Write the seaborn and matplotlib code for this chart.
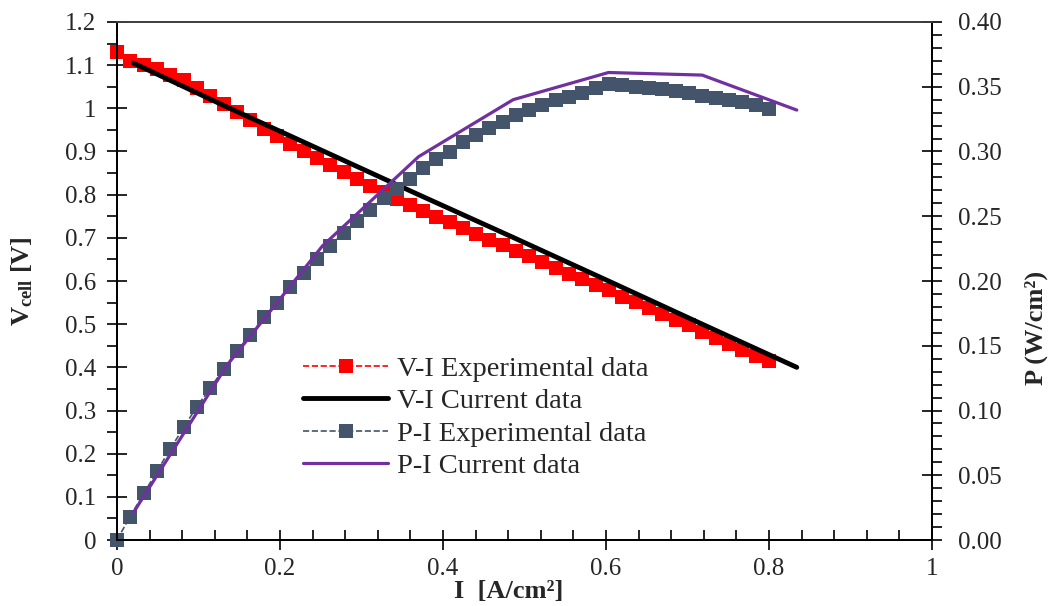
import matplotlib
matplotlib.use("Agg")
import matplotlib.pyplot as plt
from matplotlib.ticker import MultipleLocator, FormatStrFormatter, FuncFormatter
import seaborn as sns

# experimental current density [A/cm2]
I_exp = [0.000, 0.016, 0.033, 0.049, 0.065, 0.082, 0.098, 0.114, 0.131, 0.147,
         0.163, 0.180, 0.196, 0.212, 0.229, 0.245, 0.261, 0.278, 0.294, 0.310,
         0.327, 0.343, 0.359, 0.376, 0.392, 0.408, 0.424, 0.441, 0.457, 0.473,
         0.490, 0.506, 0.522, 0.539, 0.555, 0.571, 0.588, 0.604, 0.620, 0.637,
         0.653, 0.669, 0.686, 0.702, 0.718, 0.735, 0.751, 0.767, 0.784, 0.800]
# experimental cell voltage [V]
V_exp = [1.130, 1.110, 1.100, 1.090, 1.078, 1.065, 1.047, 1.029, 1.010, 0.991,
         0.972, 0.953, 0.935, 0.918, 0.901, 0.884, 0.868, 0.852, 0.836, 0.821,
         0.806, 0.791, 0.777, 0.763, 0.749, 0.736, 0.723, 0.709, 0.696, 0.683,
         0.670, 0.657, 0.644, 0.630, 0.617, 0.604, 0.591, 0.578, 0.564, 0.551,
         0.537, 0.524, 0.510, 0.497, 0.483, 0.469, 0.455, 0.441, 0.427, 0.414]
# experimental power density [W/cm2]
P_exp = [0.000, 0.018, 0.036, 0.053, 0.070, 0.087, 0.103, 0.117, 0.132, 0.146,
         0.158, 0.172, 0.183, 0.195, 0.206, 0.217, 0.227, 0.237, 0.246, 0.255,
         0.264, 0.271, 0.279, 0.287, 0.294, 0.300, 0.307, 0.313, 0.318, 0.323,
         0.328, 0.332, 0.336, 0.340, 0.342, 0.345, 0.349, 0.352, 0.351, 0.350,
         0.349, 0.348, 0.347, 0.345, 0.343, 0.341, 0.340, 0.338, 0.336, 0.333]

# model ("current data")
I_mod = [0.020, 0.135, 0.252, 0.370, 0.486, 0.603, 0.718, 0.834]
V_mod = [1.105, 1.003, 0.902, 0.800, 0.701, 0.600, 0.500, 0.400]
P_mod = [0.021, 0.135, 0.227, 0.296, 0.340, 0.361, 0.359, 0.332]

labels = ["V-I Experimental data", "V-I Current data",
          "P-I Experimental data", "P-I Current data"]

sns.set_style("white")
plt.rcParams['font.family'] = ['Liberation Serif', 'DejaVu Serif']
plt.rcParams['mathtext.fontset'] = 'custom'
plt.rcParams['mathtext.rm'] = 'Liberation Serif'
plt.rcParams['mathtext.bf'] = 'Liberation Serif:bold'
plt.rcParams['mathtext.it'] = 'Liberation Serif:italic'

fig = plt.figure(figsize=(10.52, 6.06), dpi=100)
ax = fig.add_axes([0.1112, 0.1089, 0.7748, 0.8548])
ax2 = ax.twinx()

red = "#FF0000"
slate = "#44546A"
purple = "#7030A0"

sns.lineplot(x=I_exp, y=V_exp, ax=ax, color=red, marker='s', markersize=10.5,
             markeredgewidth=0, linestyle='--', linewidth=1.2, sort=False,
             estimator=None, clip_on=False)
sns.lineplot(x=I_mod, y=V_mod, ax=ax, color='black', linewidth=3.5,
             sort=False, estimator=None, solid_capstyle='round')
sns.lineplot(x=I_exp, y=P_exp, ax=ax2, color=slate, marker='s', markersize=10.5,
             markeredgewidth=0, linestyle='--', linewidth=1.2, sort=False,
             estimator=None, clip_on=False)
sns.lineplot(x=I_mod, y=P_mod, ax=ax2, color=purple, linewidth=2.3,
             sort=False, estimator=None, solid_capstyle='round')

ax.set_xlim(0, 1)
ax.set_ylim(0, 1.2)
ax2.set_ylim(0, 0.4)

ax.xaxis.set_major_locator(MultipleLocator(0.2))
ax.xaxis.set_minor_locator(MultipleLocator(0.04))
ax.yaxis.set_major_locator(MultipleLocator(0.1))
ax.yaxis.set_minor_locator(MultipleLocator(0.05))
ax2.yaxis.set_major_locator(MultipleLocator(0.05))
ax2.yaxis.set_minor_locator(MultipleLocator(0.01))

ax.xaxis.set_major_formatter(FuncFormatter(lambda v, p: f"{round(v, 1):g}"))
ax.yaxis.set_major_formatter(FuncFormatter(lambda v, p: f"{round(v, 1):g}"))
ax2.yaxis.set_major_formatter(FormatStrFormatter("%.2f"))

ax.tick_params(axis='x', which='major', direction='inout', length=14,
               width=1.2, labelsize=18, pad=6, color='black')
ax.tick_params(axis='x', which='minor', direction='in', length=7,
               width=1.2, color='black')
ax.tick_params(axis='y', which='major', direction='inout', length=14,
               width=1.2, labelsize=18, pad=8, color='black')
ax.tick_params(axis='y', which='minor', direction='out', length=7,
               width=1.2, color='black')
ax.tick_params(axis='x', which='both', bottom=True, top=False)
ax.tick_params(axis='y', which='both', left=True, right=False)
ax2.tick_params(axis='y', which='major', direction='inout', length=14,
                width=1.2, labelsize=18, pad=12, color='black', right=True)
ax2.tick_params(axis='y', which='minor', direction='out', length=7,
                width=1.2, color='black', right=True)

for a in (ax, ax2):
    for s in a.spines.values():
        s.set_color('black')
        s.set_linewidth(1.3)
ax.spines['top'].set_color('#404040')
ax2.spines['top'].set_color('#404040')

ax.set_xlabel("I  [A/cm²]", fontsize=19, fontweight='bold')
ax.xaxis.set_label_coords(0.48, -0.078)
ax.set_ylabel(r"V$_{\mathbf{cell}}$ [V]", fontsize=19, fontweight='bold')
ax.yaxis.set_label_coords(-0.1, 0.5)
ax2.set_ylabel("P (W/cm²)", fontsize=19, fontweight='bold')
ax2.yaxis.set_label_coords(1.113, 0.41)

handles = [ax.lines[0], ax.lines[1], ax2.lines[0], ax2.lines[1]]
fig.legend(handles, labels, loc='upper left',
           bbox_to_anchor=(0.288, 0.413), frameon=False, fontsize=20.5,
           handlelength=3.0, handletextpad=0.3, labelspacing=0.23,
           borderaxespad=0, borderpad=0)

fig.savefig("out.png", dpi=100)
